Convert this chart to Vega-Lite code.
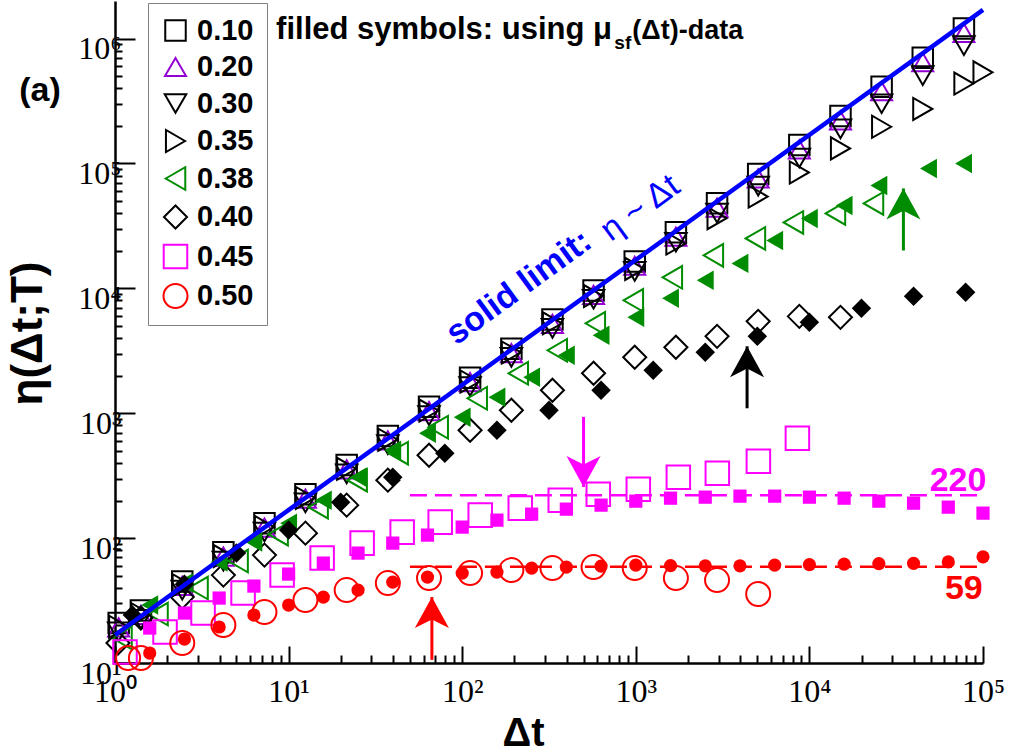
{
  "$schema": "https://vega.github.io/schema/vega-lite/v6.json",
  "width": 868,
  "height": 662,
  "autosize": {"type": "none"},
  "padding": {"left": 115, "top": 1, "right": 26, "bottom": 90},
  "background": "white",
  "config": {"view": {"stroke": null}, "axis": {"grid": false}},
  "datasets": {
    "limit": [{"dt": 1, "eta": 16.75}, {"dt": 100000, "eta": 1700000}],
    "dash220": [{"dt": 50, "eta": 220}, {"dt": 100000, "eta": 220}],
    "dash59": [{"dt": 50, "eta": 59}, {"dt": 100000, "eta": 59}],
    "open": [
      {"T":"0.10","dt":1.05,"eta":20.9},{"T":"0.10","dt":1.41,"eta":26.3},{"T":"0.10","dt":2.44,"eta":45.0},{"T":"0.10","dt":4.21,"eta":76.9},{"T":"0.10","dt":7.26,"eta":131.5},{"T":"0.10","dt":12.5,"eta":224.9},{"T":"0.10","dt":21.6,"eta":384.6},{"T":"0.10","dt":37.3,"eta":657.7},{"T":"0.10","dt":64.4,"eta":1125},{"T":"0.10","dt":111,"eta":1923},{"T":"0.10","dt":192,"eta":3289},{"T":"0.10","dt":331,"eta":5623},{"T":"0.10","dt":571,"eta":9616},{"T":"0.10","dt":986,"eta":16440},{"T":"0.10","dt":1702,"eta":28120},{"T":"0.10","dt":2938,"eta":48080},{"T":"0.10","dt":5070,"eta":82220},{"T":"0.10","dt":8750,"eta":140600},{"T":"0.10","dt":15100,"eta":240400},{"T":"0.10","dt":26060,"eta":411100},{"T":"0.10","dt":44980,"eta":703100},{"T":"0.10","dt":77620,"eta":1202000},
      {"T":"0.20","dt":1.05,"eta":19.3},{"T":"0.20","dt":1.41,"eta":24.3},{"T":"0.20","dt":2.44,"eta":41.5},{"T":"0.20","dt":4.21,"eta":71.0},{"T":"0.20","dt":7.26,"eta":121.3},{"T":"0.20","dt":12.5,"eta":207.5},{"T":"0.20","dt":21.6,"eta":354.8},{"T":"0.20","dt":37.3,"eta":606.7},{"T":"0.20","dt":64.4,"eta":1038},{"T":"0.20","dt":111,"eta":1774},{"T":"0.20","dt":192,"eta":3034},{"T":"0.20","dt":331,"eta":5188},{"T":"0.20","dt":571,"eta":8872},{"T":"0.20","dt":986,"eta":15170},{"T":"0.20","dt":1702,"eta":25940},{"T":"0.20","dt":2938,"eta":44360},{"T":"0.20","dt":5070,"eta":75860},{"T":"0.20","dt":8750,"eta":129700},{"T":"0.20","dt":15100,"eta":221800},{"T":"0.20","dt":26060,"eta":379300},{"T":"0.20","dt":44980,"eta":648600},{"T":"0.20","dt":77620,"eta":1109000},
      {"T":"0.30","dt":1.05,"eta":17.8},{"T":"0.30","dt":1.41,"eta":22.4},{"T":"0.30","dt":2.44,"eta":38.3},{"T":"0.30","dt":4.21,"eta":65.5},{"T":"0.30","dt":7.26,"eta":111.9},{"T":"0.30","dt":12.5,"eta":191.4},{"T":"0.30","dt":21.6,"eta":327.3},{"T":"0.30","dt":37.3,"eta":559.8},{"T":"0.30","dt":64.4,"eta":957},{"T":"0.30","dt":111,"eta":1637},{"T":"0.30","dt":192,"eta":2799},{"T":"0.30","dt":331,"eta":4786},{"T":"0.30","dt":571,"eta":8185},{"T":"0.30","dt":986,"eta":13680},{"T":"0.30","dt":1702,"eta":23390},{"T":"0.30","dt":2938,"eta":39990},{"T":"0.30","dt":5070,"eta":65920},{"T":"0.30","dt":8750,"eta":110700},{"T":"0.30","dt":15100,"eta":189200},{"T":"0.30","dt":26060,"eta":300600},{"T":"0.30","dt":44980,"eta":504700},{"T":"0.30","dt":77620,"eta":879000},
      {"T":"0.35","dt":1.05,"eta":19.5},{"T":"0.35","dt":1.41,"eta":24.6},{"T":"0.35","dt":2.44,"eta":42.0},{"T":"0.35","dt":4.21,"eta":71.8},{"T":"0.35","dt":7.26,"eta":122.7},{"T":"0.35","dt":12.5,"eta":209.9},{"T":"0.35","dt":21.6,"eta":358.9},{"T":"0.35","dt":37.3,"eta":613.8},{"T":"0.35","dt":64.4,"eta":1050},{"T":"0.35","dt":111,"eta":1795},{"T":"0.35","dt":192,"eta":3069},{"T":"0.35","dt":331,"eta":5248},{"T":"0.35","dt":571,"eta":8670},{"T":"0.35","dt":986,"eta":14320},{"T":"0.35","dt":1702,"eta":22860},{"T":"0.35","dt":2938,"eta":36480},{"T":"0.35","dt":5070,"eta":54330},{"T":"0.35","dt":8750,"eta":84720},{"T":"0.35","dt":15100,"eta":132100},{"T":"0.35","dt":26060,"eta":196800},{"T":"0.35","dt":44980,"eta":273500},{"T":"0.35","dt":77620,"eta":436500},{"T":"0.35","dt":100000,"eta":537000},
      {"T":"0.38","dt":1.097,"eta":15.85},{"T":"0.38","dt":1.769,"eta":24.66},{"T":"0.38","dt":3.008,"eta":39.81},{"T":"0.38","dt":5.117,"eta":65.46},{"T":"0.38","dt":8.7,"eta":107.6},{"T":"0.38","dt":14.79,"eta":177.0},{"T":"0.38","dt":24.82,"eta":291.1},{"T":"0.38","dt":42.77,"eta":478.6},{"T":"0.38","dt":72.73,"eta":772.7},{"T":"0.38","dt":122.0,"eta":1318},{"T":"0.38","dt":210.3,"eta":2089},{"T":"0.38","dt":352.8,"eta":3192},{"T":"0.38","dt":584.4,"eta":5248},{"T":"0.38","dt":967.4,"eta":8017},{"T":"0.38","dt":1623,"eta":12250},{"T":"0.38","dt":2797,"eta":18370},{"T":"0.38","dt":4885,"eta":25120},{"T":"0.38","dt":8088,"eta":33730},{"T":"0.38","dt":14120,"eta":39810},{"T":"0.38","dt":23390,"eta":47860},
      {"T":"0.40","dt":1.04,"eta":14.45},{"T":"0.40","dt":1.41,"eta":22.91},{"T":"0.40","dt":2.44,"eta":33.73},{"T":"0.40","dt":4.21,"eta":50.58},{"T":"0.40","dt":7.26,"eta":73.11},{"T":"0.40","dt":12.5,"eta":109.6},{"T":"0.40","dt":21.6,"eta":183.7},{"T":"0.40","dt":37.3,"eta":291.1},{"T":"0.40","dt":64.4,"eta":461.3},{"T":"0.40","dt":111,"eta":731.1},{"T":"0.40","dt":192,"eta":1057},{"T":"0.40","dt":331,"eta":1528},{"T":"0.40","dt":571,"eta":2089},{"T":"0.40","dt":986,"eta":2805},{"T":"0.40","dt":1702,"eta":3373},{"T":"0.40","dt":2938,"eta":4130},{"T":"0.40","dt":5070,"eta":5445},{"T":"0.40","dt":8750,"eta":5970},{"T":"0.40","dt":15100,"eta":5861},
      {"T":"0.45","dt":1.142,"eta":12.25},{"T":"0.45","dt":1.942,"eta":17.7},{"T":"0.45","dt":3.216,"eta":25.12},{"T":"0.45","dt":5.468,"eta":36.31},{"T":"0.45","dt":9.174,"eta":50.58},{"T":"0.45","dt":15.6,"eta":69.18},{"T":"0.45","dt":26.52,"eta":91.2},{"T":"0.45","dt":45.1,"eta":111.7},{"T":"0.45","dt":74.68,"eta":134.3},{"T":"0.45","dt":127.0,"eta":152.8},{"T":"0.45","dt":216.0,"eta":173.8},{"T":"0.45","dt":367.2,"eta":201.4},{"T":"0.45","dt":608.1,"eta":224.9},{"T":"0.45","dt":1034,"eta":246.6},{"T":"0.45","dt":1758,"eta":307.6},{"T":"0.45","dt":2949,"eta":331.1},{"T":"0.45","dt":5083,"eta":413.0},{"T":"0.45","dt":8528,"eta":631.0},
      {"T":"0.50","dt":1.19,"eta":10.96},{"T":"0.50","dt":1.41,"eta":10.96},{"T":"0.50","dt":2.44,"eta":14.45},{"T":"0.50","dt":4.21,"eta":20.14},{"T":"0.50","dt":7.26,"eta":25.59},{"T":"0.50","dt":12.5,"eta":31.92},{"T":"0.50","dt":21.6,"eta":38.37},{"T":"0.50","dt":37.3,"eta":43.65},{"T":"0.50","dt":64.4,"eta":47.86},{"T":"0.50","dt":111,"eta":52.48},{"T":"0.50","dt":192,"eta":55.46},{"T":"0.50","dt":331,"eta":57.54},{"T":"0.50","dt":571,"eta":58.61},{"T":"0.50","dt":986,"eta":57.54},{"T":"0.50","dt":1702,"eta":47.86},{"T":"0.50","dt":2938,"eta":46.13},{"T":"0.50","dt":5070,"eta":35.65}
    ],
    "filled": [
      {"T":"0.38","dt":1.585,"eta":29.11},{"T":"0.38","dt":2.512,"eta":43.65},{"T":"0.38","dt":3.981,"eta":64.27},{"T":"0.38","dt":6.31,"eta":92.9},{"T":"0.38","dt":10,"eta":131.8},{"T":"0.38","dt":15.85,"eta":201.4},{"T":"0.38","dt":25.12,"eta":307.6},{"T":"0.38","dt":39.81,"eta":505.8},{"T":"0.38","dt":63.1,"eta":691.8},{"T":"0.38","dt":100,"eta":929.0},{"T":"0.38","dt":158.5,"eta":1343},{"T":"0.38","dt":251.2,"eta":1941},{"T":"0.38","dt":398.1,"eta":2911},{"T":"0.38","dt":631,"eta":4207},{"T":"0.38","dt":1000,"eta":5861},{"T":"0.38","dt":1585,"eta":8318},{"T":"0.38","dt":2512,"eta":11590},{"T":"0.38","dt":3981,"eta":15850},{"T":"0.38","dt":6310,"eta":24210},{"T":"0.38","dt":10000,"eta":36310},{"T":"0.38","dt":15850,"eta":46130},{"T":"0.38","dt":25120,"eta":66680},{"T":"0.38","dt":48530,"eta":91200},{"T":"0.38","dt":77270,"eta":100000},
      {"T":"0.40","dt":1.259,"eta":24.21},{"T":"0.40","dt":2.512,"eta":42.66},{"T":"0.40","dt":5.012,"eta":75.86},{"T":"0.40","dt":10,"eta":115.9},{"T":"0.40","dt":19.95,"eta":194.1},{"T":"0.40","dt":39.81,"eta":307.6},{"T":"0.40","dt":79.43,"eta":478.6},{"T":"0.40","dt":158.5,"eta":731.1},{"T":"0.40","dt":316.2,"eta":1057},{"T":"0.40","dt":631,"eta":1528},{"T":"0.40","dt":1259,"eta":2208},{"T":"0.40","dt":2512,"eta":3076},{"T":"0.40","dt":5012,"eta":4130},{"T":"0.40","dt":10000,"eta":5346},{"T":"0.40","dt":19950,"eta":6918},{"T":"0.40","dt":39810,"eta":8630},{"T":"0.40","dt":79430,"eta":9290},
      {"T":"0.45","dt":1.585,"eta":19.05},{"T":"0.45","dt":2.512,"eta":25.12},{"T":"0.45","dt":3.981,"eta":33.11},{"T":"0.45","dt":6.31,"eta":41.3},{"T":"0.45","dt":10,"eta":51.52},{"T":"0.45","dt":15.85,"eta":63.1},{"T":"0.45","dt":25.12,"eta":75.86},{"T":"0.45","dt":39.81,"eta":91.2},{"T":"0.45","dt":63.1,"eta":105.7},{"T":"0.45","dt":100,"eta":122.5},{"T":"0.45","dt":158.5,"eta":139.3},{"T":"0.45","dt":251.2,"eta":155.6},{"T":"0.45","dt":398.1,"eta":170.6},{"T":"0.45","dt":631,"eta":183.7},{"T":"0.45","dt":1000,"eta":197.7},{"T":"0.45","dt":1585,"eta":208.9},{"T":"0.45","dt":2512,"eta":212.8},{"T":"0.45","dt":3981,"eta":216.8},{"T":"0.45","dt":6310,"eta":216.8},{"T":"0.45","dt":10000,"eta":212.8},{"T":"0.45","dt":15850,"eta":208.9},{"T":"0.45","dt":25120,"eta":197.7},{"T":"0.45","dt":39810,"eta":190.5},{"T":"0.45","dt":63100,"eta":177.0},{"T":"0.45","dt":100000,"eta":158.5},
      {"T":"0.50","dt":1.585,"eta":12.02},{"T":"0.50","dt":2.512,"eta":15.56},{"T":"0.50","dt":3.981,"eta":19.42},{"T":"0.50","dt":6.31,"eta":24.21},{"T":"0.50","dt":10,"eta":29.11},{"T":"0.50","dt":15.85,"eta":33.73},{"T":"0.50","dt":25.12,"eta":38.37},{"T":"0.50","dt":39.81,"eta":44.46},{"T":"0.50","dt":63.1,"eta":48.75},{"T":"0.50","dt":100,"eta":52.48},{"T":"0.50","dt":158.5,"eta":53.46},{"T":"0.50","dt":251.2,"eta":57.54},{"T":"0.50","dt":398.1,"eta":58.61},{"T":"0.50","dt":631,"eta":59.7},{"T":"0.50","dt":1000,"eta":60.81},{"T":"0.50","dt":1585,"eta":60.3},{"T":"0.50","dt":2512,"eta":60.0},{"T":"0.50","dt":3981,"eta":60.0},{"T":"0.50","dt":6310,"eta":60.81},{"T":"0.50","dt":10000,"eta":61.3},{"T":"0.50","dt":15850,"eta":61.94},{"T":"0.50","dt":25120,"eta":62.5},{"T":"0.50","dt":39810,"eta":62.8},{"T":"0.50","dt":63100,"eta":64.5},{"T":"0.50","dt":100000,"eta":70.8}
    ],
    "arrows": [
      {"T":"0.45","dt":500,"eta":935,"eta2":257},
      {"T":"0.50","dt":66.9,"eta":10.6,"eta2":33.7},
      {"T":"0.40","dt":4375,"eta":1096,"eta2":3436},
      {"T":"0.38","dt":34800,"eta":20100,"eta2":63100}
    ],
    "heads": [
      {"T":"0.45","dt":500,"eta":257},
      {"T":"0.50","dt":66.9,"eta":33.7},
      {"T":"0.40","dt":4375,"eta":3436},
      {"T":"0.38","dt":34800,"eta":63100}
    ]
  },
  "encoding": {
    "x": {
      "field": "dt", "type": "quantitative",
      "scale": {"type": "log", "domain": [1, 100000], "nice": false},
      "axis": {
        "title": "Δt", "titleFont": "Liberation Sans", "titleFontWeight": "bold", "titleFontSize": 40, "titleColor": "black",
        "titleX": 408, "titleY": 70, "titleAlign": "center", "titleBaseline": "middle",
        "values": [1,2,3,4,5,6,7,8,9,10,20,30,40,50,60,70,80,90,100,200,300,400,500,600,700,800,900,1000,2000,3000,4000,5000,6000,7000,8000,9000,10000,20000,30000,40000,50000,60000,70000,80000,90000,100000],
        "labelExpr": "abs(log(datum.value)/LN10 - round(log(datum.value)/LN10)) < 0.001 ? '10' + ['⁰','¹','²','³','⁴','⁵','⁶'][round(log(datum.value)/LN10)] : ''",
        "labelFont": "Liberation Serif", "labelFontSize": 32, "labelColor": "black", "labelBaseline": "top",
        "labelPadding": 30, "labelOverlap": false, "labelFlush": false,
        "domainColor": "black", "domainWidth": 2.5, "tickColor": "black", "tickWidth": 2,
        "tickSize": {"condition": {"test": "abs(log(datum.value)/LN10 - round(log(datum.value)/LN10)) < 0.001", "value": -17}, "value": -8}
      }
    },
    "y": {
      "field": "eta", "type": "quantitative",
      "scale": {"type": "log", "domain": [10, 2000000], "nice": false},
      "axis": {
        "title": "η(Δt;T)", "titleFont": "Liberation Sans", "titleFontWeight": "bold", "titleFontSize": 44, "titleColor": "black",
        "titleX": -87, "titleY": 332, "titleAngle": 270, "titleAlign": "center", "titleBaseline": "middle",
        "values": [10,20,30,40,50,60,70,80,90,100,200,300,400,500,600,700,800,900,1000,2000,3000,4000,5000,6000,7000,8000,9000,10000,20000,30000,40000,50000,60000,70000,80000,90000,100000,200000,300000,400000,500000,600000,700000,800000,900000,1000000],
        "labelExpr": "abs(log(datum.value)/LN10 - round(log(datum.value)/LN10)) < 0.001 ? '10' + ['⁰','¹','²','³','⁴','⁵','⁶'][round(log(datum.value)/LN10)] : ''",
        "labelFont": "Liberation Serif", "labelFontSize": 32, "labelColor": "black", "labelAlign": "right", "labelBaseline": "middle",
        "labelPadding": 14, "labelOffset": 10, "labelOverlap": false, "labelFlush": false,
        "domainColor": "black", "domainWidth": 2.5, "tickColor": "black", "tickWidth": 2,
        "tickSize": {"condition": {"test": "abs(log(datum.value)/LN10 - round(log(datum.value)/LN10)) < 0.001", "value": -20}, "value": -7}
      }
    }
  },
  "layer": [
    {"data": {"name": "dash220"}, "mark": {"type": "line", "color": "#ff00ff", "strokeWidth": 2.5, "strokeDash": [17, 8]}, "encoding": {}},
    {"data": {"name": "dash59"}, "mark": {"type": "line", "color": "#ff0000", "strokeWidth": 2.5, "strokeDash": [17, 8]}, "encoding": {}},
    {
      "data": {"name": "open"},
      "mark": {"type": "point", "filled": false, "strokeWidth": 2, "opacity": 1},
      "encoding": {
        "color": {"field": "T", "type": "nominal",
          "scale": {"domain": ["0.10","0.20","0.30","0.35","0.38","0.40","0.45","0.50"], "range": ["#000000","#9400d3","#000000","#000000","#008c00","#000000","#ff00ff","#ff0000"]},
          "legend": {"title": null, "orient": "none", "legendX": 33, "legendY": 2, "padding": 13, "rowPadding": 6.5, "labelFont": "Liberation Sans", "labelFontWeight": "bold", "labelFontSize": 29, "labelColor": "black", "labelOffset": 7, "symbolStrokeWidth": 2, "strokeColor": "#808080", "fillColor": "white"}},
        "shape": {"field": "T", "type": "nominal",
          "scale": {"domain": ["0.10","0.20","0.30","0.35","0.38","0.40","0.45","0.50"], "range": ["square","triangle-up","triangle-down","triangle-right","triangle-left","diamond","square","circle"]},
          "legend": {"title": null, "orient": "none", "legendX": 33, "legendY": 2}},
        "size": {"field": "T", "type": "nominal",
          "scale": {"domain": ["0.10","0.20","0.30","0.35","0.38","0.40","0.45","0.50"], "range": [420, 576, 576, 420, 1089, 961, 500, 640]},
          "legend": {"title": null, "orient": "none", "legendX": 33, "legendY": 2}}
      }
    },
    {"data": {"name": "filled"}, "transform": [{"filter": "datum.T === '0.38'"}], "mark": {"type": "point", "filled": true, "opacity": 1, "size": 380, "shape": "triangle-left", "color": "#008c00"}, "encoding": {}},
    {"data": {"name": "filled"}, "transform": [{"filter": "datum.T === '0.40'"}], "mark": {"type": "point", "filled": true, "opacity": 1, "size": 380, "shape": "diamond", "color": "#000000"}, "encoding": {}},
    {"data": {"name": "filled"}, "transform": [{"filter": "datum.T === '0.45'"}], "mark": {"type": "point", "filled": true, "opacity": 1, "size": 175, "shape": "square", "color": "#ff00ff"}, "encoding": {}},
    {"data": {"name": "filled"}, "transform": [{"filter": "datum.T === '0.50'"}], "mark": {"type": "point", "filled": true, "opacity": 1, "size": 175, "shape": "circle", "color": "#ff0000"}, "encoding": {}},
    {"data": {"name": "limit"}, "mark": {"type": "line", "color": "#0000ff", "strokeWidth": 4.5}, "encoding": {}},
    {"data": {"name": "arrows"}, "transform": [{"filter": "datum.T === '0.45'"}], "mark": {"type": "rule", "strokeWidth": 3, "color": "#ff00ff"}, "encoding": {"y2": {"field": "eta2"}}},
    {"data": {"name": "arrows"}, "transform": [{"filter": "datum.T === '0.50'"}], "mark": {"type": "rule", "strokeWidth": 3, "color": "#ff0000"}, "encoding": {"y2": {"field": "eta2"}}},
    {"data": {"name": "arrows"}, "transform": [{"filter": "datum.T === '0.40'"}], "mark": {"type": "rule", "strokeWidth": 3, "color": "#000000"}, "encoding": {"y2": {"field": "eta2"}}},
    {"data": {"name": "arrows"}, "transform": [{"filter": "datum.T === '0.38'"}], "mark": {"type": "rule", "strokeWidth": 3, "color": "#008c00"}, "encoding": {"y2": {"field": "eta2"}}},
    {"data": {"name": "heads"}, "transform": [{"filter": "datum.T === '0.45'"}], "mark": {"type": "point", "filled": true, "opacity": 1, "size": 3844, "color": "#ff00ff", "shape": "M0,0 L0.55,-1 L0,-0.72 L-0.55,-1 Z"}, "encoding": {}},
    {"data": {"name": "heads"}, "transform": [{"filter": "datum.T === '0.50'"}], "mark": {"type": "point", "filled": true, "opacity": 1, "size": 3844, "color": "#ff0000", "shape": "M0,0 L0.55,1 L0,0.72 L-0.55,1 Z"}, "encoding": {}},
    {"data": {"name": "heads"}, "transform": [{"filter": "datum.T === '0.40'"}], "mark": {"type": "point", "filled": true, "opacity": 1, "size": 3844, "color": "#000000", "shape": "M0,0 L0.55,1 L0,0.72 L-0.55,1 Z"}, "encoding": {}},
    {"data": {"name": "heads"}, "transform": [{"filter": "datum.T === '0.38'"}], "mark": {"type": "point", "filled": true, "opacity": 1, "size": 3844, "color": "#008c00", "shape": "M0,0 L0.55,1 L0,0.72 L-0.55,1 Z"}, "encoding": {}},
    {
      "data": {"values": [{"dt": 0.37, "eta": 383700, "label": "(a)"}]},
      "mark": {"type": "text", "font": "Liberation Sans", "fontWeight": "bold", "fontSize": 34, "color": "black", "align": "center", "baseline": "middle"},
      "encoding": {"text": {"field": "label"}}
    },
    {
      "data": {"values": [{"dt": 8.47, "eta": 986000, "label": "filled symbols: using μ"}]},
      "mark": {"type": "text", "font": "Liberation Sans", "fontWeight": "bold", "fontSize": 31, "color": "black", "align": "left", "baseline": "alphabetic"},
      "encoding": {"text": {"field": "label"}}
    },
    {
      "data": {"values": [{"dt": 955, "eta": 986000, "label": "(Δt)-data"}]},
      "mark": {"type": "text", "font": "Liberation Sans", "fontWeight": "bold", "fontSize": 27, "color": "black", "align": "left", "baseline": "alphabetic"},
      "encoding": {"text": {"field": "label"}}
    },
    {
      "data": {"values": [{"dt": 752, "eta": 832000, "label": "sf"}]},
      "mark": {"type": "text", "font": "Liberation Sans", "fontWeight": "bold", "fontSize": 19, "color": "black", "align": "left", "baseline": "alphabetic"},
      "encoding": {"text": {"field": "label"}}
    },
    {
      "data": {"values": [{"dt": 213, "eta": 10100, "label": "solid limit:"}]},
      "mark": {"type": "text", "font": "Liberation Sans", "fontWeight": "bold", "fontSize": 34, "color": "#0000ff", "align": "center", "baseline": "middle", "angle": -36},
      "encoding": {"text": {"field": "label"}}
    },
    {
      "data": {"values": [{"dt": 1062, "eta": 43650, "label": "η ~ Δt"}]},
      "mark": {"type": "text", "font": "Liberation Sans", "fontSize": 34, "color": "#0000ff", "align": "center", "baseline": "middle", "angle": -36},
      "encoding": {"text": {"field": "label"}}
    },
    {
      "data": {"values": [{"dt": 71800, "eta": 287, "label": "220"}]},
      "mark": {"type": "text", "font": "Liberation Sans", "fontWeight": "bold", "fontSize": 34, "color": "#ff00ff", "align": "center", "baseline": "middle"},
      "encoding": {"text": {"field": "label"}}
    },
    {
      "data": {"values": [{"dt": 77500, "eta": 38.9, "label": "59"}]},
      "mark": {"type": "text", "font": "Liberation Sans", "fontWeight": "bold", "fontSize": 34, "color": "#ff0000", "align": "center", "baseline": "middle"},
      "encoding": {"text": {"field": "label"}}
    }
  ]
}
